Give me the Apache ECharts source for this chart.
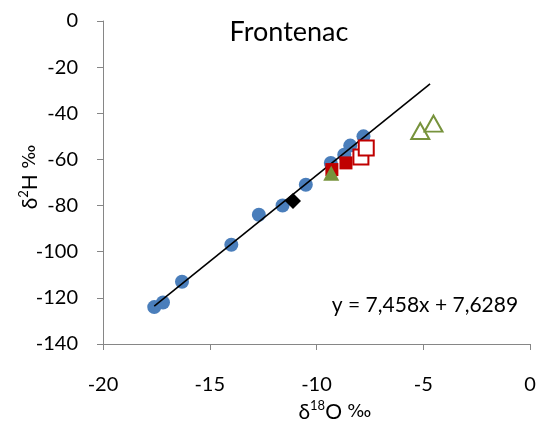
<!DOCTYPE html>
<html><head><meta charset="utf-8">
<script src="https://cdn.jsdelivr.net/npm/echarts@6/dist/echarts.min.js"></script>
<style>html,body{margin:0;padding:0;background:#fff}#c{width:540px;height:428px}</style>
</head><body><div id="c"></div>
<script>
// Data
const circleX = [-17.60, -17.19, -16.30, -13.99, -12.70, -11.59, -10.50, -9.33, -8.70, -8.42, -7.80];
const circleY = [-124, -122, -113, -97, -84, -80, -71, -61.5, -58, -54, -50];
const redFilledX = [-9.28, -8.62];
const redFilledY = [-64.4, -61.5];
const redHollowX = [-7.92, -7.67];
const redHollowY = [-59, -55];
const greenFilledX = [-9.31];
const greenFilledY = [-66];
const greenHollowX = [-5.14, -4.52];
const greenHollowY = [-47.7, -44.5];
const diamondX = [-11.10];
const diamondY = [-78];
const trendSlope = 7.458, trendIntercept = 7.6289;
const trendRangeX = [-17.6, -4.68];
const xTicks = [-20, -15, -10, -5, 0];
const yTicks = [0, -20, -40, -60, -80, -100, -120, -140];

const zip = (a, b) => a.map((v, i) => [v, b[i]]);
const FONT = 'Lato';
const richTitle = {
  a: {font: '21px Lato', fill: '#000', lineHeight: 25},
  p: {font: '18px "DejaVu Sans"', fill: '#000', lineHeight: 25},
  s: {font: '13px Lato', fill: '#000', lineHeight: 13, verticalAlign: 'top'}
};
const chart = echarts.init(document.getElementById('c'));
chart.setOption({
  animation: false,
  grid: {left: 103, right: 10, top: 21, bottom: 84},
  xAxis: {
    type: 'value', min: xTicks[0], max: xTicks[xTicks.length - 1], interval: 5,
    axisLine: {onZero: false, lineStyle: {color: '#868686', width: 1}},
    axisTick: {show: true, inside: false, length: 6, lineStyle: {color: '#868686'}},
    splitLine: {show: false},
    axisLabel: {margin: 31, color: '#000', fontFamily: FONT, fontSize: 20}
  },
  yAxis: {
    type: 'value', min: yTicks[yTicks.length - 1], max: yTicks[0], interval: 20,
    axisLine: {show: true, onZero: false, lineStyle: {color: '#868686', width: 1}},
    axisTick: {show: true, inside: false, length: 6, lineStyle: {color: '#868686'}},
    splitLine: {show: false},
    axisLabel: {margin: 25, color: '#000', fontFamily: FONT, fontSize: 20}
  },
  graphic: [
    {type: 'text', style: {text: 'Frontenac', font: '27px Lato', fill: '#000', x: 289, y: 32, align: 'center', verticalAlign: 'middle'}},
    {type: 'text', style: {text: 'y = 7,458x + 7,6289', font: '21px Lato', fill: '#000', x: 425, y: 305, align: 'center', verticalAlign: 'middle'}},
    {type: 'text', x: 335, y: 412, style: {text: '{a|δ}{s|18}{a|O }{p|‰}', x: 0, y: 0, align: 'center', verticalAlign: 'middle', rich: richTitle}},
    {type: 'text', rotation: Math.PI / 2, x: 30, y: 177, style: {text: '{a|δ}{s|2}{a|H }{p|‰}', x: 0, y: 0, align: 'center', verticalAlign: 'middle', rich: richTitle}}
  ],
  series: [
    {type: 'line', data: trendRangeX.map(x => [x, trendSlope * x + trendIntercept]), symbol: 'none',
      lineStyle: {color: '#000', width: 1.6}, z: 3},
    {type: 'scatter', data: zip(circleX, circleY), symbol: 'circle', symbolSize: 14,
      itemStyle: {color: '#4A7EBB', opacity: 1}, z: 2},
    {type: 'scatter', data: zip(diamondX, diamondY), symbol: 'diamond', symbolSize: [16, 16],
      itemStyle: {color: '#000', opacity: 1}, z: 4},
    {type: 'scatter', data: zip(redFilledX, redFilledY), symbol: 'rect', symbolSize: 13,
      itemStyle: {color: '#C00000', opacity: 1}, z: 4},
    {type: 'scatter', data: zip(redHollowX, redHollowY), symbol: 'rect', symbolSize: 15,
      itemStyle: {color: '#fff', borderColor: '#C00000', borderWidth: 2, opacity: 1}, z: 4},
    {type: 'scatter', data: zip(greenFilledX, greenFilledY), symbol: 'triangle', symbolSize: [16, 15],
      itemStyle: {color: '#77933C', opacity: 1}, z: 5},
    {type: 'scatter', data: zip(greenHollowX, greenHollowY), symbol: 'triangle', symbolSize: [18, 16],
      itemStyle: {color: '#fff', borderColor: '#77933C', borderWidth: 2, opacity: 1}, z: 4}
  ]
});
</script></body></html>
